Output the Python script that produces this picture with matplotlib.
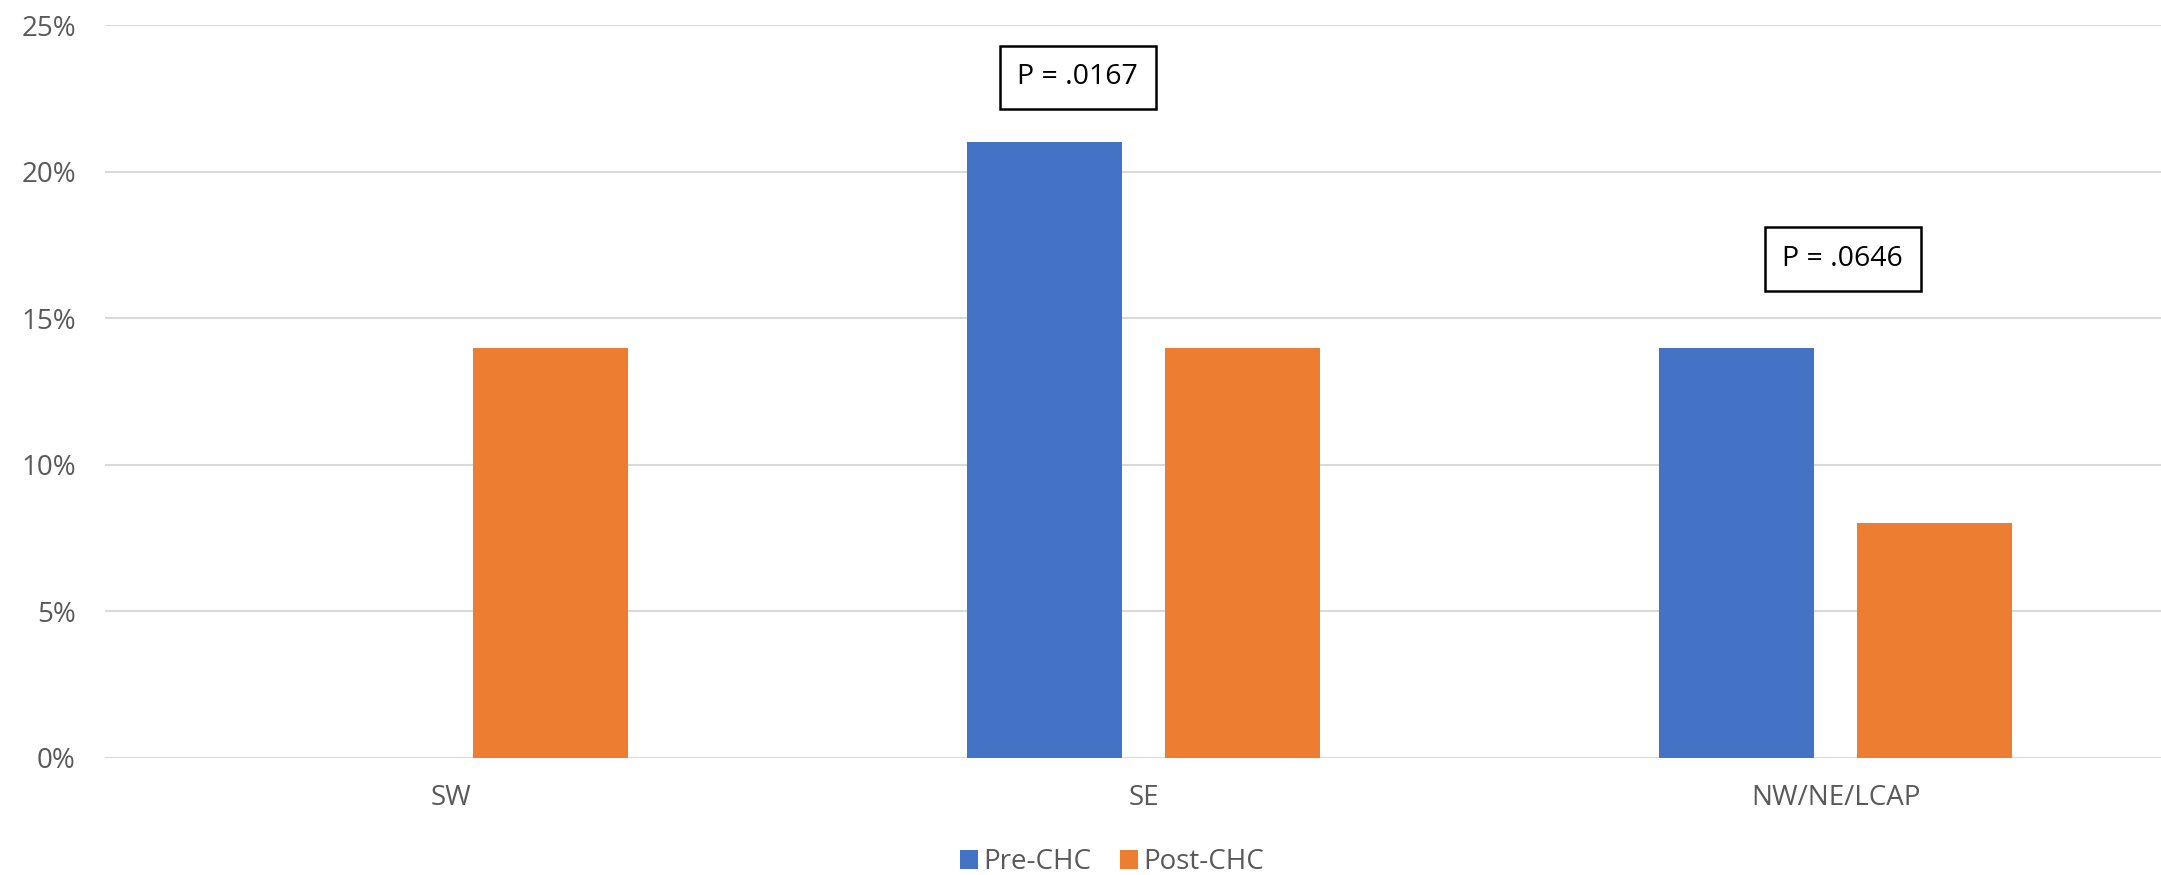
import matplotlib
matplotlib.use("Agg")
import matplotlib.pyplot as plt
from matplotlib.ticker import PercentFormatter, FixedLocator
import numpy as np

categories = ["SW", "SE", "NW/NE/LCAP"]
pre_chc = [0.0, 0.21, 0.14]
post_chc = [0.14, 0.14, 0.08]
series_names = ["Pre-CHC", "Post-CHC"]
y_ticks = [0, 0.05, 0.10, 0.15, 0.20, 0.25]
p_labels = ["P = .0167", "P = .0646"]

W, H = 2161, 875
dpi = 100
fig = plt.figure(figsize=(W / dpi, H / dpi), dpi=dpi)
plt.rcParams['font.family'] = ['Open Sans', 'DejaVu Sans']

left_px, right_px, top_px, bot_px = 105, 2161, 25, 758
ax = fig.add_axes([left_px / W, 1 - bot_px / H, (right_px - left_px) / W, (bot_px - top_px) / H])

x = np.arange(len(categories))
width = 0.224
off = 0.143
blue = "#4472C4"
orange = "#ED7D31"
ax.bar(x - off, pre_chc, width, color=blue, label=series_names[0], zorder=3)
ax.bar(x + off, post_chc, width, color=orange, label=series_names[1], zorder=3)

ax.set_xlim(-0.5, 2.47)
ax.set_ylim(0, 0.25)
ax.yaxis.set_major_locator(FixedLocator(y_ticks))
ax.yaxis.set_major_formatter(PercentFormatter(1.0, decimals=0))
ax.grid(axis='y', color='#D9D9D9', linewidth=1.5, zorder=0)
ax.set_axisbelow(True)
for s in ax.spines.values():
    s.set_visible(False)
ax.set_xticks(x)
ax.set_xticklabels(categories)
ax.tick_params(axis='both', length=0, labelsize=20, labelcolor='#595959')
ax.tick_params(axis='y', pad=21)
ax.tick_params(axis='x', pad=19)

# p-value boxes
box = dict(boxstyle='square,pad=0.62', fc='white', ec='black', lw=1.8)
ax.text(0.905, 0.2321, p_labels[0], ha='center', va='center', fontsize=20.5,
        color='black', bbox=box, zorder=5)
ax.text(2.010, 0.1702, p_labels[1], ha='center', va='center', fontsize=20.5,
        color='black', bbox=box, zorder=5)

leg = fig.legend(loc='center', bbox_to_anchor=(1112 / W, 1 - 862 / H), ncol=2, frameon=False,
                 fontsize=20, handlelength=0.65, handleheight=0.65, handletextpad=0.2,
                 columnspacing=1.0, labelcolor='#595959')

fig.savefig("out.png", dpi=dpi)
